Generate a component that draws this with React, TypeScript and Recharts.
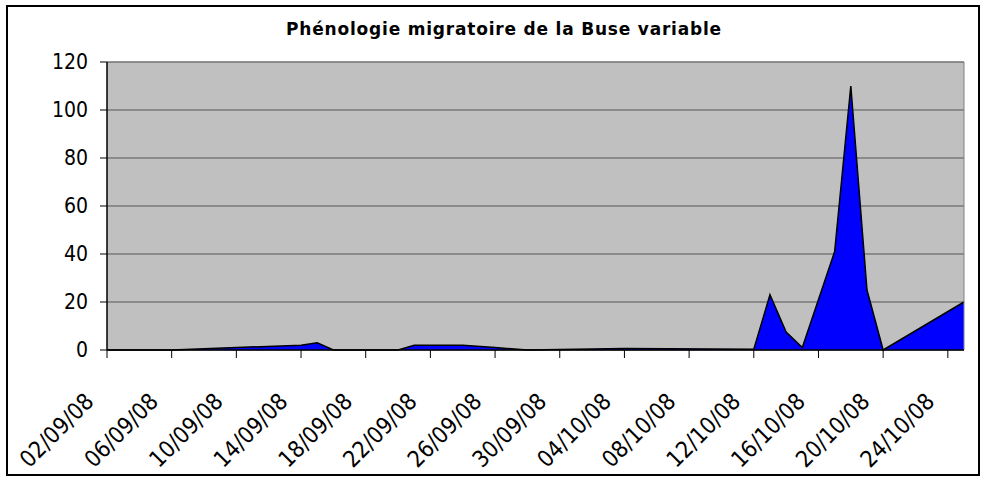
import React from 'react';
import { AreaChart, Area, XAxis, YAxis, CartesianGrid, ReferenceLine } from 'recharts';

const title = 'Phénologie migratoire de la Buse variable';

const obsDates = [
  '02/09/08', '06/09/08', '14/09/08', '15/09/08', '16/09/08', '20/09/08', '21/09/08',
  '24/09/08', '26/09/08', '28/09/08', '04/10/08', '12/10/08', '13/10/08', '14/10/08',
  '15/10/08', '17/10/08', '18/10/08', '19/10/08', '20/10/08', '25/10/08',
];
const counts = [0, 0, 2, 3, 0, 0, 2, 2, 1, 0, 0.6, 0.3, 23, 7.5, 1, 41, 110, 25, 0, 20];

const tickLabels = [
  '02/09/08', '06/09/08', '10/09/08', '14/09/08', '18/09/08', '22/09/08', '26/09/08',
  '30/09/08', '04/10/08', '08/10/08', '12/10/08', '16/10/08', '20/10/08', '24/10/08',
];
const yTicks = [0, 20, 40, 60, 80, 100, 120];

const FONT = '"DejaVu Sans Condensed", "DejaVu Sans", sans-serif';
const TITLE_FONT = '"DejaVu Sans", sans-serif';

const toDay = (s: string) => {
  const [d, m, y] = s.split('/').map(Number);
  return Date.UTC(2000 + y, m - 1, d) / 86400000;
};
const day0 = toDay(obsDates[0]);
const dayOf = (s: string) => toDay(s) - day0;

const data = obsDates.map((d, i) => ({ day: dayOf(d), count: counts[i] }));
const tickDays = tickLabels.map(dayOf);
const labelByDay: Record<number, string> = {};
tickLabels.forEach((l) => { labelByDay[dayOf(l)] = l; });
const lastDay = dayOf(obsDates[obsDates.length - 1]);

const XTick = (props: any) => {
  const { x, y, payload } = props;
  return (
    <g transform={`translate(${x - 12},${y + 45})`}>
      <text textAnchor="end" transform="rotate(-45)" fontSize={23} fontFamily={FONT} fill="#000">
        {labelByDay[payload.value]}
      </text>
    </g>
  );
};

export default function App() {
  return (
    <div style={{ position: 'absolute', left: 0, top: 0, width: 987, height: 480, background: '#fff' }}>
      <div
        style={{
          position: 'absolute', left: 6, top: 5, width: 974, height: 471,
          border: '2px solid #000', boxSizing: 'border-box',
        }}
      />
      <div
        style={{
          position: 'absolute', left: 504, top: 18, transform: 'translateX(-50%)',
          whiteSpace: 'nowrap', fontFamily: TITLE_FONT, fontWeight: 'bold', fontSize: 17,
          letterSpacing: 0.8, lineHeight: '22px', color: '#000',
        }}
      >
        {title}
      </div>
      <div style={{ position: 'absolute', left: 0, top: 0 }}>
        <AreaChart width={987} height={480} data={data} margin={{ top: 62, right: 23, left: 0, bottom: 30 }}>
          <CartesianGrid vertical={false} stroke="#555" fill="#C0C0C0" fillOpacity={1} />
          <XAxis
            dataKey="day"
            type="number"
            domain={[0, lastDay]}
            ticks={tickDays}
            interval={0}
            height={100}
            tickSize={8}
            tickMargin={0}
            axisLine={{ stroke: '#000', strokeWidth: 1.5 }}
            tickLine={{ stroke: '#000' }}
            tick={<XTick />}
          />
          <YAxis
            domain={[0, 120]}
            ticks={yTicks}
            width={107}
            tickSize={7}
            tickMargin={12}
            axisLine={{ stroke: '#000', strokeWidth: 1.5 }}
            tickLine={{ stroke: '#000' }}
            tick={{ fontSize: 21, fontFamily: FONT, fill: '#000' }}
          />
          <ReferenceLine y={120} stroke="#808080" />
          <ReferenceLine x={lastDay} stroke="#808080" />
          <Area
            type="linear"
            dataKey="count"
            stroke="#000"
            strokeWidth={1.5}
            fill="#0000FF"
            fillOpacity={1}
            dot={false}
            activeDot={false}
            isAnimationActive={false}
          />
        </AreaChart>
      </div>
    </div>
  );
}
